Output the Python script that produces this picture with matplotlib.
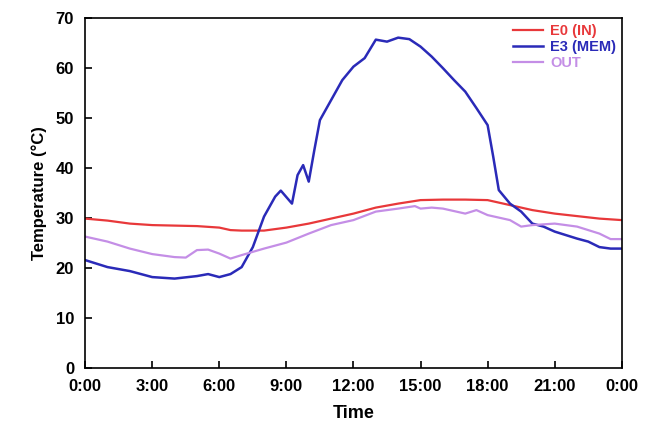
"""Daily temperature profile: inlet, membrane and outlet."""

import matplotlib

matplotlib.use("Agg")
import matplotlib.pyplot as plt

plt.rcParams["font.family"] = ["Liberation Sans", "DejaVu Sans"]
plt.rcParams["font.weight"] = "bold"

# hours of day
hours_in = [0, 1, 2, 3, 4, 5, 6, 6.5, 7, 8, 9, 10, 11, 12, 13, 14, 15, 16,
            17, 18, 19, 20, 21, 22, 23, 24]
temp_in = [29.9, 29.5, 28.9, 28.6, 28.5, 28.4, 28.1, 27.6, 27.5, 27.5, 28.1,
           28.9, 29.9, 30.9, 32.1, 32.9, 33.6, 33.7, 33.7, 33.6, 32.6, 31.6,
           30.9, 30.4, 29.9, 29.6]

hours_mem = [0, 1, 2, 3, 4, 5, 5.5, 6, 6.5, 7, 7.5, 8, 8.5, 8.75, 9.25, 9.5,
             9.75, 10, 10.25, 10.5, 11, 11.5, 12, 12.5, 13, 13.5, 14, 14.5,
             15, 15.5, 16, 16.5, 17, 17.5, 18, 18.25, 18.5, 19, 19.5, 20,
             20.5, 21, 21.5, 22, 22.5, 23, 23.5, 24]
temp_mem = [21.6, 20.2, 19.4, 18.2, 17.9, 18.4, 18.8, 18.2, 18.8, 20.2, 24.2,
            30.3, 34.3, 35.5, 32.9, 38.6, 40.6, 37.3, 43.6, 49.6, 53.6, 57.6,
            60.3, 62.0, 65.7, 65.3, 66.1, 65.8, 64.3, 62.3, 60.0, 57.6, 55.3,
            52.0, 48.6, 42.3, 35.6, 32.9, 31.3, 28.9, 28.3, 27.3, 26.6, 25.9,
            25.3, 24.2, 23.9, 23.9]

hours_out = [0, 1, 2, 3, 4, 4.5, 5, 5.5, 6, 6.5, 7, 8, 9, 10, 11, 12, 13, 14,
             14.75, 15, 15.5, 16, 17, 17.5, 18, 19, 19.5, 20, 21, 22, 23,
             23.5, 24]
temp_out = [26.3, 25.3, 23.9, 22.8, 22.2, 22.1, 23.6, 23.7, 22.9, 21.9, 22.6,
            23.9, 25.1, 26.9, 28.6, 29.6, 31.3, 31.9, 32.4, 31.9, 32.1, 31.9,
            30.9, 31.6, 30.6, 29.6, 28.3, 28.6, 28.9, 28.3, 26.9, 25.8, 25.8]

tick_hours = [0, 3, 6, 9, 12, 15, 18, 21, 24]
tick_labels = ["0:00", "3:00", "6:00", "9:00", "12:00", "15:00", "18:00",
               "21:00", "0:00"]

fig = plt.figure(figsize=(6.45, 4.32), dpi=100)
ax = fig.add_axes([0.132, 0.148, 0.832, 0.81])

ax.plot(hours_in, temp_in, color="#e8383a", lw=1.6, label="E0 (IN)")
ax.plot(hours_mem, temp_mem, color="#2a2ab8", lw=1.8, label="E3 (MEM)")
ax.plot(hours_out, temp_out, color="#c48ee6", lw=1.6, label="OUT")

ax.set_xlim(0, 24)
ax.set_ylim(0, 70)
ax.set_xticks(tick_hours)
ax.set_xticklabels(tick_labels)
ax.set_yticks(range(0, 71, 10))
ax.tick_params(direction="in", length=5, width=1.2, labelsize=12, pad=8)
for side in ax.spines.values():
    side.set_linewidth(1.2)

ax.set_xlabel("Time", fontsize=13, fontweight="bold", labelpad=8)
ax.set_ylabel("Temperature (\u00b0C)", fontsize=12, fontweight="bold",
              labelpad=6)

leg = ax.legend(loc="upper right", frameon=False, fontsize=10.5,
                handlelength=2.0, labelspacing=0.15, borderaxespad=0.0,
                handletextpad=0.5)
for text, line in zip(leg.get_texts(), leg.get_lines()):
    text.set_color(line.get_color())

fig.savefig("out.png", dpi=100)
